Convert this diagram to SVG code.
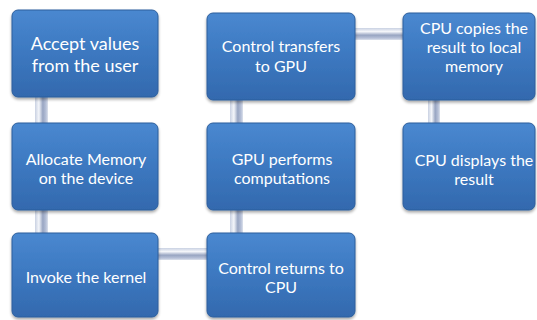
<svg xmlns="http://www.w3.org/2000/svg" width="537" height="320" viewBox="0 0 537 320">
  <defs>
    <linearGradient id="boxFill" x1="0" y1="0" x2="0" y2="1">
      <stop offset="0" stop-color="#4a88d0"/>
      <stop offset="0.5" stop-color="#3c78c0"/>
      <stop offset="1" stop-color="#3369ae"/>
    </linearGradient>
    <linearGradient id="pipeV" x1="0" y1="0" x2="1" y2="0">
      <stop offset="0" stop-color="#c9d1e2"/>
      <stop offset="0.3" stop-color="#f4f6fa"/>
      <stop offset="0.6" stop-color="#98a5c2"/>
      <stop offset="0.85" stop-color="#b7c1d8"/>
      <stop offset="1" stop-color="#dde2ec"/>
    </linearGradient>
    <linearGradient id="pipeH" x1="0" y1="0" x2="0" y2="1">
      <stop offset="0" stop-color="#c9d1e2"/>
      <stop offset="0.3" stop-color="#f4f6fa"/>
      <stop offset="0.6" stop-color="#98a5c2"/>
      <stop offset="0.85" stop-color="#b7c1d8"/>
      <stop offset="1" stop-color="#dde2ec"/>
    </linearGradient>
    <filter id="shadow" x="-10%" y="-10%" width="120%" height="130%">
      <feGaussianBlur in="SourceAlpha" stdDeviation="1.5"/>
      <feOffset dx="0" dy="2" result="b"/>
      <feComponentTransfer><feFuncA type="linear" slope="0.35"/></feComponentTransfer>
      <feMerge><feMergeNode/><feMergeNode in="SourceGraphic"/></feMerge>
    </filter>
  </defs>
  <style>
    .box { fill: url(#boxFill); stroke: #2d5e9c; stroke-width: 1; filter: url(#shadow); }
    .label { fill: #ffffff; font-family: Lato, "Liberation Sans", sans-serif; font-size: 16px; text-anchor: middle; }
    .big { font-size: 18px; }
    .pv { fill: url(#pipeV); }
    .ph { fill: url(#pipeH); }
  </style>

  <rect width="537" height="320" fill="#ffffff"/>

  <!-- pipe-style connectors -->
  <g id="connectors">
    <rect class="pv" x="35" y="96" width="13" height="28"/>
    <rect class="pv" x="35" y="209" width="13" height="25"/>
    <rect class="ph" x="157" y="248" width="51" height="12"/>
    <rect class="pv" x="230" y="209" width="13" height="25"/>
    <rect class="pv" x="230" y="99" width="13" height="25"/>
    <rect class="ph" x="354" y="28" width="50" height="12"/>
    <rect class="pv" x="428" y="99" width="12" height="25"/>
  </g>

  <g id="accept">
    <rect class="box" x="12" y="10" width="146" height="87" rx="6"/>
    <text class="label big" x="85" y="50">Accept values</text>
    <text class="label big" x="85" y="72">from the user</text>
  </g>

  <g id="allocate">
    <rect class="box" x="12" y="123" width="146" height="87" rx="6"/>
    <text class="label" x="86" y="165">Allocate Memory</text>
    <text class="label" x="86" y="184">on the device</text>
  </g>

  <g id="invoke">
    <rect class="box" x="12" y="233" width="146" height="84" rx="6"/>
    <text class="label" x="86" y="283">Invoke the kernel</text>
  </g>

  <g id="transfer">
    <rect class="box" x="207" y="13" width="148" height="87" rx="6"/>
    <text class="label" x="281" y="52">Control transfers</text>
    <text class="label" x="281" y="72">to GPU</text>
  </g>

  <g id="compute">
    <rect class="box" x="207" y="123" width="148" height="87" rx="6"/>
    <text class="label" x="282" y="165">GPU performs</text>
    <text class="label" x="282" y="184">computations</text>
  </g>

  <g id="return">
    <rect class="box" x="207" y="233" width="148" height="84" rx="6"/>
    <text class="label" x="281" y="274">Control returns to</text>
    <text class="label" x="281" y="293">CPU</text>
  </g>

  <g id="copy">
    <rect class="box" x="403" y="13" width="132" height="87" rx="6"/>
    <text class="label" x="474" y="34">CPU copies the</text>
    <text class="label" x="474" y="53">result to local</text>
    <text class="label" x="474" y="72">memory</text>
  </g>

  <g id="display">
    <rect class="box" x="403" y="123" width="132" height="87" rx="6"/>
    <text class="label" x="474" y="166">CPU displays the</text>
    <text class="label" x="474" y="185">result</text>
  </g>
</svg>
